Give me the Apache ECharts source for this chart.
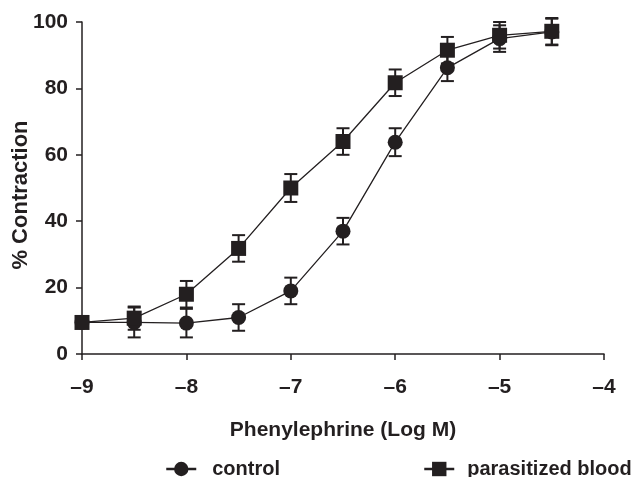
<!DOCTYPE html>
<html>
<head>
<meta charset="utf-8">
<script src="https://cdn.jsdelivr.net/npm/echarts@6/dist/echarts.min.js"></script>
<style>
  html, body { margin: 0; padding: 0; background: #fff; }
  #main { width: 633px; height: 477px; }
</style>
</head>
<body>
<div id="main"></div>
<script>
// log dose of phenylephrine (x) and % contraction (y) with error bars
var logDose = [-9, -8.5, -8, -7.5, -7, -6.5, -6, -5.5, -5, -4.5];
var control = [9.5, 9.5, 9.3, 11, 19, 37, 63.8, 86.2, 95, 97];
var controlErr = [0, 4.5, 4.3, 4, 4, 4, 4.2, 4, 4, 4];
var parasitized = [9.5, 10.8, 18, 31.8, 50, 64, 81.7, 91.5, 96, 97.2];
var parasitizedErr = [0, 3.5, 4, 4, 4.2, 4, 4, 4, 4, 4];

var ink = '#231f20';
var font = 'Liberation Sans, Arial, sans-serif';

function pairs(ys) {
  return logDose.map(function (x, i) { return [x, ys[i]]; });
}
function errRows(ys, es) {
  return logDose.map(function (x, i) { return [x, ys[i] - es[i], ys[i] + es[i]]; });
}

function errorBars(rows) {
  return {
    type: 'custom',
    data: rows,
    silent: true,
    z: 1,
    renderItem: function (params, api) {
      var lo = api.coord([api.value(0), api.value(1)]);
      var hi = api.coord([api.value(0), api.value(2)]);
      var w = 6.5;
      var st = { stroke: ink, lineWidth: 2 };
      return {
        type: 'group',
        children: [
          { type: 'line', shape: { x1: lo[0], y1: lo[1], x2: hi[0], y2: hi[1] }, style: st },
          { type: 'line', shape: { x1: lo[0] - w, y1: lo[1], x2: lo[0] + w, y2: lo[1] }, style: st },
          { type: 'line', shape: { x1: hi[0] - w, y1: hi[1], x2: hi[0] + w, y2: hi[1] }, style: st }
        ]
      };
    }
  };
}

var myChart = echarts.init(document.getElementById('main'), null, { renderer: 'canvas' });

var legendText = { color: ink, fontFamily: font, fontWeight: 'bold', fontSize: 20 };

var option = {
  animation: false,
  backgroundColor: '#fff',
  grid: { left: 82, right: 29, top: 22, bottom: 123, outerBoundsMode: 'none', containLabel: false },
  legend: [
    {
      data: ['control'],
      left: 165, top: 459, padding: 0,
      itemWidth: 30, itemHeight: 18,
      lineStyle: { width: 2.5 },
      textStyle: Object.assign({ padding: [0, 0, 0, 11] }, legendText)
    },
    {
      data: ['parasitized blood'],
      left: 423, top: 459, padding: 0,
      itemWidth: 30, itemHeight: 18,
      lineStyle: { width: 2.5 },
      textStyle: Object.assign({ padding: [0, 0, 0, 8] }, legendText)
    }
  ],
  xAxis: {
    type: 'value',
    min: -9, max: -4, interval: 1,
    name: 'Phenylephrine (Log M)',
    nameLocation: 'middle',
    nameGap: 66,
    nameTextStyle: { color: ink, fontFamily: font, fontWeight: 'bold', fontSize: 21 },
    axisLine: { lineStyle: { color: ink, width: 1.5 } },
    axisTick: { lineStyle: { color: ink, width: 1.5 }, length: 6 },
    splitLine: { show: false },
    axisLabel: {
      color: ink, fontFamily: font, fontWeight: 'bold', fontSize: 21, margin: 23,
      formatter: function (v) { return String(v).replace('-', '\u2013'); }
    }
  },
  yAxis: {
    type: 'value',
    min: 0, max: 100, interval: 20,
    name: '% Contraction',
    nameLocation: 'middle',
    nameGap: 50,
    nameMoveOverlap: false,
    nameTextStyle: { color: ink, fontFamily: font, fontWeight: 'bold', fontSize: 22, padding: [0, 14, 0, 0] },
    axisLine: { show: true, lineStyle: { color: ink, width: 1.5 } },
    axisTick: { show: true, lineStyle: { color: ink, width: 1.5 }, length: 6 },
    splitLine: { show: false },
    axisLabel: { color: ink, fontFamily: font, fontWeight: 'bold', fontSize: 21, margin: 14 }
  },
  series: [
    errorBars(errRows(control, controlErr)),
    errorBars(errRows(parasitized, parasitizedErr)),
    {
      name: 'control',
      type: 'line',
      data: pairs(control),
      symbol: 'circle',
      symbolSize: 15,
      z: 3,
      itemStyle: { color: ink, borderWidth: 0 },
      lineStyle: { color: ink, width: 1.3 }
    },
    {
      name: 'parasitized blood',
      type: 'line',
      data: pairs(parasitized),
      symbol: 'rect',
      symbolSize: 15,
      z: 4,
      itemStyle: { color: ink, borderWidth: 0 },
      lineStyle: { color: ink, width: 1.3 }
    }
  ]
};

myChart.setOption(option);
window.addEventListener('resize', myChart.resize);
</script>
</body>
</html>
